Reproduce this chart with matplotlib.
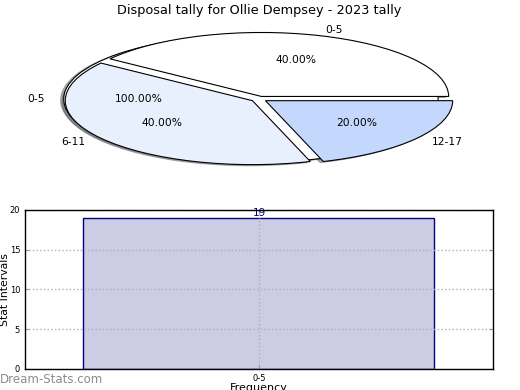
import matplotlib
matplotlib.use("Agg")
import matplotlib.pyplot as plt

title = "Disposal tally for Ollie Dempsey - 2023 tally"
pie_labels = ["0-5", "6-11", "12-17"]
pie_values = [2, 2, 1]
pie_colors = ["#ffffff", "#e9f0fd", "#c4d8fe"]
outer_labels = ["0-5"]
outer_values = [1]

bar_cats = ["0-5"]
bar_values = [19]
yticks = [0, 5, 10, 15, 20]

fig = plt.figure(figsize=(5.2, 3.9), dpi=100)

ax1 = fig.add_axes([0.048, 0.541, 0.9, 0.41])
explode_amt = 0.043
shadow_kw = {"ox": -0.012, "oy": -0.012, "shade": 0.6}
# Full-circle base pie (single wedge)
ax1.pie(outer_values, labels=outer_labels, colors=["#ffffff"],
        explode=[explode_amt] * len(outer_values), shadow=shadow_kw,
        autopct="%1.2f%%", pctdistance=0.6, labeldistance=1.1,
        wedgeprops=dict(edgecolor="black", linewidth=0.8),
        textprops=dict(fontsize=7.7))
ax1.pie(pie_values, labels=pie_labels, colors=pie_colors,
        explode=[explode_amt] * len(pie_values), shadow=shadow_kw,
        autopct="%1.2f%%", pctdistance=0.6, labeldistance=1.1,
        wedgeprops=dict(edgecolor="black", linewidth=0.8),
        textprops=dict(fontsize=7.7))
ax1.set_aspect("auto")
ax1.set_xlim(-1.25, 1.25)
ax1.set_ylim(-1.25, 1.25)
ax1.set_title(title, fontsize=9.3, pad=4)

ax2 = fig.add_axes([0.048, 0.054, 0.9, 0.408])
x = list(range(len(bar_cats)))
bars = ax2.bar(x, bar_values, width=0.75, color="#ccccE5", edgecolor="#000080",
               linewidth=1.0, zorder=2)
for xi, v in zip(x, bar_values):
    ax2.text(xi, v, str(v), ha="center", va="bottom", color="#000080",
             fontsize=7.5, zorder=3)
ax2.set_xlim(-0.5, 0.5)
ax2.set_ylim(0, 20)
ax2.set_yticks(yticks)
ax2.set_xticks(x)
ax2.set_xticklabels(bar_cats)
ax2.tick_params(axis="both", labelsize=6, direction="in", color="#999999",
                length=3, right=True, top=True)
ax2.grid(True, linestyle=":", color="#b0b0b0", linewidth=1.0, zorder=2.5)
ax2.set_axisbelow(False)
ax2.set_ylabel("Stat Intervals", fontsize=7.8)
ax2.yaxis.set_label_coords(-0.032, 0.5)
ax2.set_xlabel("Frequency", fontsize=8, labelpad=0)
for s in ax2.spines.values():
    s.set_linewidth(1.0)
    s.set_zorder(4)

fig.text(0.0, 0.01, "Dream-Stats.com", color="#8c8c8c", fontsize=8.5,
         ha="left", va="bottom")

fig.savefig("out.png", dpi=100)
